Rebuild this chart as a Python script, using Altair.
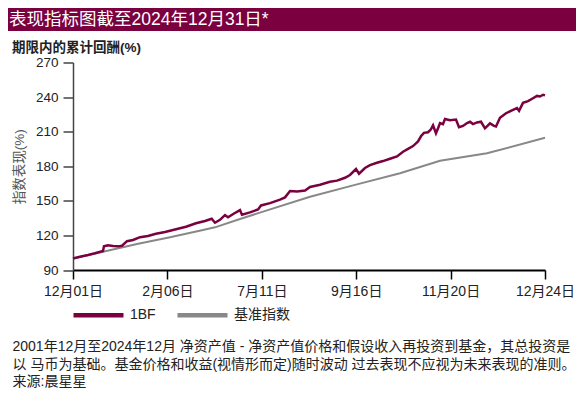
import json
import altair as alt
import pandas as pd

# ---- data ----
tick_labels = ["12月01日", "2月06日", "7月11日", "9月16日", "11月20日", "12月24日"]
series_names = ["1BF", "基准指数"]

fund_x = [0, 0.074, 0.159, 0.233, 0.318, 0.328, 0.371, 0.424, 0.477, 0.519,
          0.572, 0.636, 0.710, 0.794, 0.879, 0.975, 1.091, 1.197, 1.303, 1.398,
          1.469, 1.504, 1.557, 1.610, 1.642, 1.706, 1.769, 1.790, 1.875, 1.960,
          1.992, 2.087, 2.193, 2.246, 2.299, 2.373, 2.458, 2.511, 2.617, 2.722,
          2.797, 2.881, 2.934, 2.998, 3.030, 3.093, 3.146, 3.220, 3.284, 3.358,
          3.432, 3.496, 3.549, 3.602, 3.655, 3.686, 3.718, 3.761, 3.792, 3.814,
          3.845, 3.867, 3.888, 3.919, 3.941, 3.994, 4.057, 4.089, 4.131, 4.174,
          4.206, 4.237, 4.280, 4.322, 4.364, 4.396, 4.417, 4.460, 4.481, 4.523,
          4.587, 4.650, 4.703, 4.725, 4.767, 4.820, 4.873, 4.915, 4.947, 4.979, 5.0]
fund_y = [100, 101.5, 103, 104.5, 106.5, 110.5, 111.5, 110.8, 110.5, 111,
          115, 116, 118.5, 119.5, 121.5, 123, 125.3, 127.5, 130.5, 132.5,
          134.5, 131, 133.5, 137.7, 135.8, 139, 142, 138, 140, 142.5,
          146, 148, 151, 153, 158.5, 158, 159, 162, 164, 166.5,
          167.5, 170, 172.4, 177.6, 173.5, 178.5, 181, 183, 184.5, 186.5,
          188.5, 192.6, 195, 197.5, 201.5, 206, 209, 209.5, 212, 215.5,
          208.6, 213, 217.5, 216.5, 221, 220, 220.5, 213.8, 215, 217.5,
          218.6, 216.6, 218, 218.6, 212.9, 215.5, 217.2, 215, 214.5, 222,
          226, 228.5, 230.5, 228, 235, 236.5, 239, 241, 240.5, 242, 241.5]

bench_x = [0, 0.318, 0.678, 1.028, 1.377, 1.504, 1.769, 2.013, 2.511, 3.008,
           3.464, 3.888, 4.386, 5.0]
bench_y = [100, 105.9, 112.5, 118.4, 124.7, 127, 134.2, 140.6, 153.6, 164.3,
           174, 184.8, 191.2, 204.7]

y_ticks = [90, 120, 150, 180, 210, 240, 270]

title_text = "表现指标图截至2024年12月31日*"
subtitle_text = "期限内的累计回酬(%)"
y_title = "指数表现(%)"
footer_lines = [
    "2001年12月至2024年12月 净资产值 - 净资产值价格和假设收入再投资到基金，其总投资是",
    "以 马币为基础。基金价格和收益(视情形而定)随时波动 过去表现不应视为未来表现的准则。",
    "来源:晨星星",
]

MAROON = "#7A0040"
GRAY = "#888888"
FONT = "Liberation Sans, Noto Sans CJK SC"

fund_df = pd.DataFrame({"u": fund_x, "v": fund_y, "s": series_names[0]})
bench_df = pd.DataFrame({"u": bench_x, "v": bench_y, "s": series_names[1]})

label_expr = json.dumps(tick_labels, ensure_ascii=False) + "[datum.value]"

x_enc = alt.X("u:Q", scale=alt.Scale(domain=[0, 5], nice=False, zero=False),
              axis=alt.Axis(values=list(range(6)), labelExpr=label_expr, title=None,
                            domainColor="black", domainWidth=2, tickColor="black",
                            tickSize=9, tickWidth=1.5, labelFontSize=14, labelColor="#222",
                            labelPadding=5, labelFlush=False, labelOverlap=False, grid=False))
y_enc = alt.Y("v:Q", scale=alt.Scale(domain=[90, 270], nice=False, zero=False),
              axis=alt.Axis(values=y_ticks, title=y_title, domainColor="#444", domainWidth=1.5,
                            tickColor="#444", tickSize=10, tickWidth=1.5, labelFontSize=13.5,
                            labelColor="#222", labelPadding=5, titleFontSize=13.5,
                            titleColor="#555", titleFontWeight="normal", titlePadding=9,
                            grid=False))
color_enc = alt.Color("s:N", scale=alt.Scale(domain=series_names, range=[MAROON, GRAY]),
                      legend=alt.Legend(title=None, orient="none", direction="horizontal",
                                        legendX=-2, legendY=225, symbolType="stroke",
                                        symbolSize=2500, symbolStrokeWidth=4.5,
                                        labelFontSize=14, labelColor="#222", labelOffset=4,
                                        columnPadding=12, padding=0))

bench_line = alt.Chart(bench_df).mark_line(strokeWidth=2).encode(x=x_enc, y=y_enc, color=color_enc)
fund_line = alt.Chart(fund_df).mark_line(strokeWidth=2.5).encode(x=x_enc, y=y_enc, color=color_enc)

one = alt.Data(values=[{"a": 1}])
band = alt.Chart(one).mark_rect(color=MAROON).encode(
    x=alt.value(-65), x2=alt.value(503), y=alt.value(-54.5), y2=alt.value(-31.5))
title = alt.Chart(one).mark_text(text=title_text, color="white", fontSize=17.5, align="left",
                                 baseline="middle").encode(x=alt.value(-64), y=alt.value(-42.5))
subtitle = alt.Chart(one).mark_text(text=subtitle_text, color="#222", fontSize=13.5,
                                    fontWeight="bold", align="left", baseline="middle").encode(
    x=alt.value(-61), y=alt.value(-14.5))

footer_layers = [
    alt.Chart(one).mark_text(text=line, color="#222", fontSize=14, align="left",
                             baseline="middle").encode(x=alt.value(-60.5), y=alt.value(284.5 + 17.5 * i))
    for i, line in enumerate(footer_lines)
]

chart = alt.layer(band, title, subtitle, bench_line, fund_line, *footer_layers).properties(
    width=472, height=207.5,
    autosize=alt.AutoSizeParams(type="none"),
    padding={"left": 65, "top": 54.5, "right": 31, "bottom": 124},
).configure(font=FONT).configure_view(strokeWidth=0)

chart.save("out.html", embed_options={"renderer": "svg", "actions": False})
